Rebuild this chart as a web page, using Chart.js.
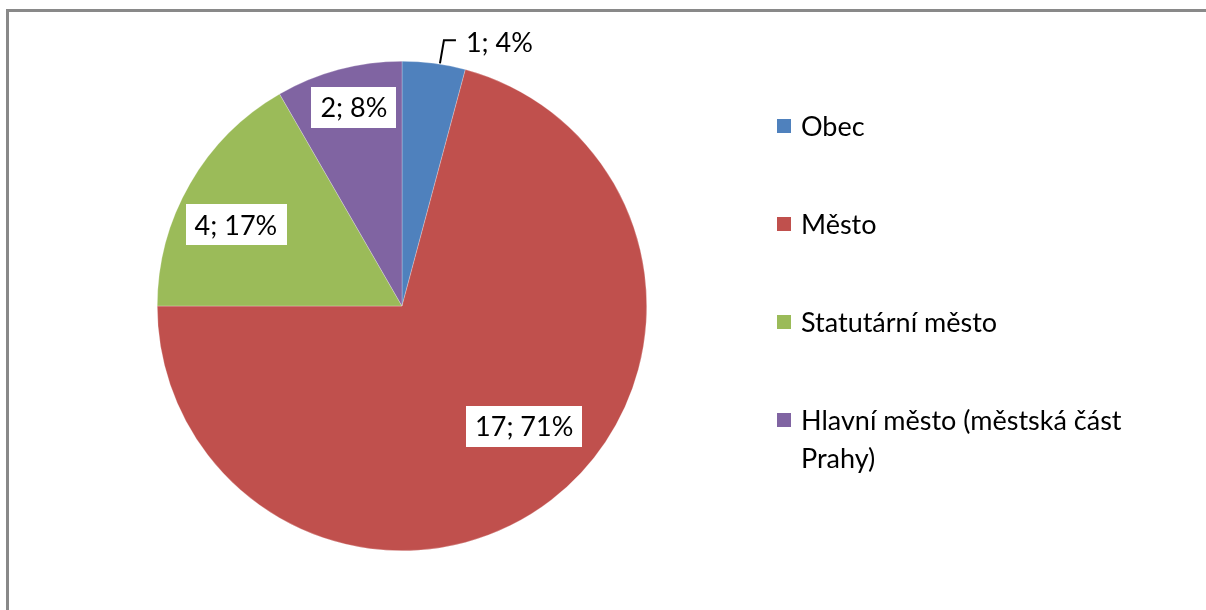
<!DOCTYPE html>
<html>
<head>
<meta charset="utf-8">
<script src="https://cdn.jsdelivr.net/npm/chart.js@4"></script>
<style>
html,body{margin:0;padding:0;background:#fff;}
#wrap{width:1206px;height:610px;}
</style>
</head>
<body>
<div id="wrap"><canvas id="c" width="1206" height="610"></canvas></div>
<script>
const categories = ["Obec", "Město", "Statutární město", "Hlavní město (městská část Prahy)"];
const legendLines = [["Obec"], ["Město"], ["Statutární město"], ["Hlavní město (městská část", "Prahy)"]];
const values = [1, 17, 4, 2];
const percents = ["4%", "71%", "17%", "8%"];
const colors = ["#4F81BD", "#C0504D", "#9BBB59", "#8064A2"];

const FONT = '27px Lato, "Noto Sans", sans-serif';
// label placement styles (radius fraction, angle adjust in degrees)
const labelRadiusFrac = [1, 0.70, 0.755, 0.836];
const labelAngleAdj = [0, -8, -4, 1.4];

const framePlugin = {
  id: 'frame',
  beforeDraw(chart) {
    const ctx = chart.ctx;
    ctx.save();
    ctx.fillStyle = '#fff';
    ctx.fillRect(0, 0, chart.width, chart.height);
    ctx.strokeStyle = '#898989';
    ctx.lineWidth = 3;
    ctx.beginPath();
    ctx.moveTo(7.5, chart.height);
    ctx.lineTo(7.5, 10.5);
    ctx.lineTo(chart.width, 10.5);
    ctx.stroke();
    ctx.restore();
  }
};

const labelPlugin = {
  id: 'labels',
  afterDatasetsDraw(chart) {
    const ctx = chart.ctx;
    const meta = chart.getDatasetMeta(0);
    ctx.save();
    ctx.font = FONT;
    ctx.textBaseline = 'middle';
    meta.data.forEach((arc, i) => {
      const text = values[i] + '; ' + percents[i];
      const mid = (arc.startAngle + arc.endAngle) / 2 + labelAngleAdj[i] * Math.PI / 180;
      const r = arc.outerRadius;
      if (i === 0) {
        const ex = arc.x + Math.cos(mid) * r;
        const ey = arc.y + Math.sin(mid) * r;
        ctx.strokeStyle = '#000';
        ctx.lineWidth = 2;
        ctx.beginPath();
        ctx.moveTo(ex + 6, ey);
        ctx.lineTo(ex + 10, ey - 23);
        ctx.lineTo(ex + 22, ey - 23);
        ctx.stroke();
        ctx.fillStyle = '#000';
        ctx.textAlign = 'left';
        ctx.fillText(text, ex + 32, ey - 20);
        return;
      }
      const f = labelRadiusFrac[i];
      const cx = arc.x + Math.cos(mid) * r * f;
      const cy = arc.y + Math.sin(mid) * r * f;
      const tw = ctx.measureText(text).width;
      const bw = tw + 18, bh = 41;
      ctx.fillStyle = '#fff';
      ctx.fillRect(Math.round(cx - bw / 2), Math.round(cy - bh / 2), Math.round(bw), bh);
      ctx.fillStyle = '#000';
      ctx.textAlign = 'center';
      ctx.fillText(text, cx, cy + 1);
    });
    ctx.restore();
  }
};

const legendPlugin = {
  id: 'customLegend',
  afterDraw(chart) {
    const ctx = chart.ctx;
    ctx.save();
    ctx.font = FONT;
    ctx.textBaseline = 'middle';
    ctx.textAlign = 'left';
    const startY = 126, step = 98, lineH = 38;
    legendLines.forEach((lines, i) => {
      const y = startY + i * step;
      ctx.fillStyle = colors[i];
      ctx.fillRect(777, y - 7, 14, 14);
      ctx.fillStyle = '#000';
      lines.forEach((ln, j) => ctx.fillText(ln, 801, y + 1 + j * lineH));
    });
    ctx.restore();
  }
};

new Chart(document.getElementById('c'), {
  type: 'pie',
  data: {
    labels: categories,
    datasets: [{
      data: values,
      backgroundColor: colors,
      borderColor: 'rgba(255,255,255,0.5)',
      borderWidth: 0.5
    }]
  },
  options: {
    responsive: false,
    animation: false,
    layout: { padding: { left: 157, right: 559, top: 61, bottom: 59 } },
    plugins: {
      legend: { display: false },
      tooltip: { enabled: false },
      title: { display: false }
    }
  },
  plugins: [framePlugin, labelPlugin, legendPlugin]
});
</script>
</body>
</html>
